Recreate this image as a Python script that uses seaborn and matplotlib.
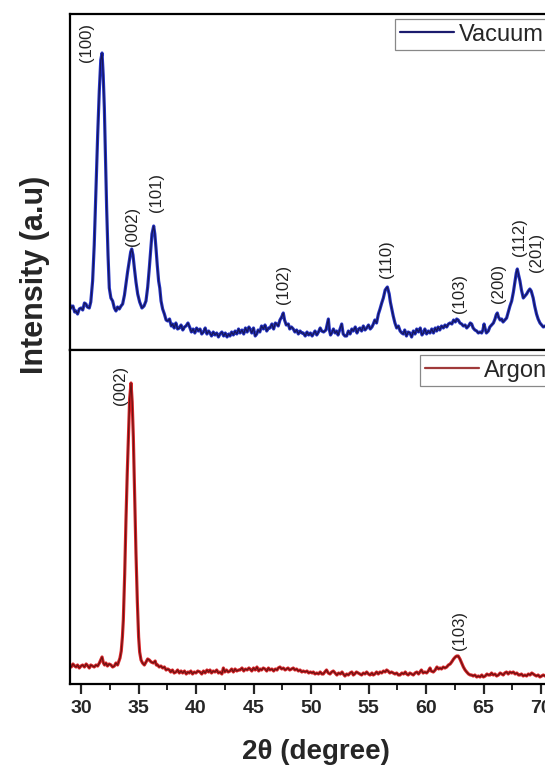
import matplotlib
matplotlib.use("Agg")
import matplotlib.pyplot as plt
import seaborn as sns
import pandas as pd
from matplotlib.lines import Line2D
from matplotlib.ticker import MultipleLocator

# ---------------- data ----------------
# (2theta in degree, intensity in arbitrary units)
vacuum_points = [
    (29.0, 46), (29.15, 42), (29.3, 44), (29.45, 38), (29.57, 39), (29.7, 36), (29.85, 41),
    (30.0, 42), (30.15, 40), (30.3, 47), (30.43, 46), (30.55, 43), (30.72, 42), (30.85, 48),
    (31.01, 69), (31.15, 105), (31.3, 159), (31.45, 215), (31.59, 259), (31.72, 290), (31.83, 297),
    (31.93, 275), (32.03, 242), (32.13, 190), (32.23, 142), (32.35, 95), (32.46, 62), (32.6, 52),
    (32.75, 49), (32.9, 42), (33.04, 39), (33.18, 43), (33.33, 41), (33.48, 44), (33.62, 46),
    (33.78, 55), (33.91, 66), (34.05, 78), (34.2, 89), (34.32, 98), (34.41, 101), (34.52, 95),
    (34.64, 82), (34.78, 68), (34.93, 56), (35.1, 48), (35.3, 42), (35.48, 44), (35.65, 49),
    (35.8, 63), (35.94, 82), (36.06, 100), (36.17, 116), (36.32, 124), (36.42, 116), (36.52, 102),
    (36.63, 85), (36.75, 69), (36.85, 62), (36.96, 49), (37.1, 41), (37.25, 36), (37.4, 30),
    (37.54, 29), (37.7, 31), (37.85, 24), (37.97, 26), (38.1, 22), (38.25, 27), (38.4, 21),
    (38.55, 22), (38.7, 25), (38.85, 20), (39.0, 23), (39.13, 24), (39.3, 27), (39.48, 22),
    (39.6, 18), (39.75, 21), (39.9, 17), (40.05, 22), (40.2, 19), (40.35, 21), (40.5, 16),
    (40.65, 18), (40.8, 22), (40.95, 16), (41.1, 19), (41.22, 17), (41.35, 14), (41.5, 18),
    (41.65, 15), (41.8, 17), (41.95, 13), (42.09, 16), (42.25, 18), (42.4, 14), (42.55, 17),
    (42.7, 13), (42.85, 16), (42.96, 14), (43.1, 18), (43.25, 15), (43.4, 19), (43.55, 16),
    (43.7, 21), (43.83, 17), (44.0, 20), (44.15, 16), (44.3, 22), (44.45, 18), (44.6, 23),
    (44.7, 21), (44.85, 17), (45.0, 22), (45.15, 14), (45.28, 16), (45.4, 20), (45.55, 18),
    (45.7, 24), (45.86, 21), (46.0, 25), (46.15, 19), (46.3, 22), (46.43, 22), (46.6, 26),
    (46.75, 21), (46.9, 27), (47.01, 26), (47.15, 24), (47.3, 30), (47.45, 33), (47.59, 37),
    (47.7, 30), (47.85, 25), (48.03, 26), (48.15, 21), (48.3, 23), (48.46, 21), (48.6, 18),
    (48.75, 20), (48.9, 16), (49.05, 19), (49.2, 17), (49.33, 17), (49.5, 14), (49.65, 18),
    (49.8, 15), (49.95, 17), (50.1, 14), (50.2, 16), (50.35, 19), (50.5, 15), (50.65, 18),
    (50.8, 22), (50.93, 19), (51.1, 18), (51.3, 20), (51.51, 31), (51.6, 20), (51.7, 15),
    (51.8, 17), (51.95, 21), (52.1, 17), (52.23, 19), (52.35, 15), (52.5, 20), (52.67, 26),
    (52.8, 16), (52.95, 14), (53.1, 14), (53.25, 19), (53.4, 16), (53.55, 21), (53.68, 19),
    (53.85, 23), (54.0, 17), (54.15, 21), (54.26, 22), (54.4, 19), (54.55, 24), (54.7, 20),
    (54.84, 22), (55.0, 25), (55.15, 21), (55.3, 23), (55.42, 26), (55.55, 30), (55.7, 27),
    (55.86, 36), (56.0, 41), (56.15, 47), (56.29, 52), (56.45, 60), (56.64, 63), (56.8, 56),
    (56.9, 48), (57.01, 42), (57.15, 34), (57.3, 27), (57.45, 22), (57.6, 24), (57.75, 19),
    (57.9, 17), (58.03, 16), (58.15, 20), (58.3, 14), (58.45, 18), (58.61, 17), (58.75, 13),
    (58.9, 19), (59.05, 16), (59.19, 21), (59.35, 18), (59.5, 22), (59.65, 15), (59.77, 17),
    (59.9, 21), (60.05, 16), (60.2, 19), (60.35, 17), (60.5, 21), (60.65, 17), (60.8, 22),
    (60.93, 19), (61.05, 23), (61.2, 20), (61.35, 24), (61.51, 22), (61.65, 25), (61.8, 23),
    (61.95, 26), (62.09, 27), (62.25, 26), (62.4, 30), (62.55, 28), (62.67, 31), (62.8, 30),
    (62.95, 27), (63.1, 26), (63.25, 24), (63.4, 25), (63.54, 22), (63.7, 24), (63.85, 27),
    (63.97, 26), (64.1, 22), (64.25, 20), (64.41, 19), (64.55, 17), (64.7, 18), (64.84, 17),
    (64.95, 20), (65.05, 26), (65.13, 22), (65.25, 17), (65.42, 19), (65.55, 23), (65.7, 25),
    (65.86, 27), (66.0, 31), (66.1, 35), (66.2, 37), (66.3, 33), (66.45, 30), (66.58, 31),
    (66.7, 28), (66.85, 30), (67.01, 32), (67.15, 38), (67.3, 44), (67.45, 49), (67.6, 58),
    (67.74, 69), (67.85, 77), (67.94, 81), (68.05, 75), (68.17, 69), (68.3, 60), (68.46, 52),
    (68.6, 54), (68.75, 56), (68.9, 59), (69.03, 61), (69.15, 59), (69.32, 52), (69.45, 44),
    (69.61, 36), (69.75, 31), (69.91, 27), (70.05, 25), (70.2, 23), (70.35, 24), (70.5, 22),
    (70.7, 20), (70.9, 22), (71.1, 21), (71.3, 19), (71.5, 22), (71.7, 20), (71.9, 21), (72.0, 20),
]

argon_points = [
    (29.0, 19), (29.15, 17), (29.3, 20), (29.45, 18), (29.57, 17), (29.7, 19), (29.85, 16),
    (30.0, 18), (30.14, 19), (30.3, 17), (30.45, 20), (30.6, 18), (30.72, 16), (30.85, 19),
    (31.0, 18), (31.15, 17), (31.3, 19), (31.45, 18), (31.6, 21), (31.72, 24), (31.83, 27),
    (31.95, 21), (32.05, 19), (32.17, 21), (32.3, 18), (32.45, 20), (32.61, 19), (32.75, 17),
    (32.9, 18), (33.04, 21), (33.18, 19), (33.3, 23), (33.39, 26), (33.5, 33), (33.6, 47),
    (33.68, 64), (33.8, 110), (33.91, 164), (34.02, 210), (34.12, 247), (34.23, 285), (34.35, 301),
    (34.45, 282), (34.55, 247), (34.66, 190), (34.78, 131), (34.9, 82), (35.01, 47), (35.1, 32),
    (35.22, 24), (35.35, 21), (35.51, 19), (35.65, 22), (35.8, 25), (35.94, 24), (36.1, 22),
    (36.29, 21), (36.45, 23), (36.55, 19), (36.67, 19), (36.8, 17), (36.95, 18), (37.1, 16),
    (37.25, 17), (37.4, 14), (37.55, 15), (37.68, 14), (37.8, 12), (37.95, 14), (38.1, 11),
    (38.26, 12), (38.4, 14), (38.55, 11), (38.7, 13), (38.84, 11), (39.0, 13), (39.15, 10),
    (39.3, 12), (39.42, 11), (39.55, 13), (39.7, 10), (39.85, 12), (40.0, 11), (40.15, 13),
    (40.35, 12), (40.5, 10), (40.65, 13), (40.8, 11), (40.95, 14), (41.1, 12), (41.22, 14),
    (41.35, 11), (41.5, 13), (41.65, 12), (41.8, 14), (41.95, 11), (42.09, 12), (42.25, 10),
    (42.38, 16), (42.5, 12), (42.65, 14), (42.8, 12), (42.96, 13), (43.1, 15), (43.25, 12),
    (43.4, 15), (43.55, 13), (43.7, 14), (43.83, 14), (44.0, 16), (44.15, 13), (44.3, 15),
    (44.45, 14), (44.6, 16), (44.7, 15), (44.85, 13), (45.0, 16), (45.15, 14), (45.3, 17),
    (45.45, 13), (45.57, 15), (45.7, 14), (45.85, 16), (46.0, 15), (46.15, 13), (46.3, 16),
    (46.43, 14), (46.6, 15), (46.75, 13), (46.9, 15), (47.05, 14), (47.15, 16), (47.3, 17),
    (47.45, 15), (47.6, 16), (47.75, 14), (47.88, 15), (48.0, 16), (48.15, 14), (48.3, 15),
    (48.46, 16), (48.6, 14), (48.75, 15), (48.9, 13), (49.05, 14), (49.2, 12), (49.33, 13),
    (49.5, 12), (49.65, 13), (49.8, 11), (49.95, 12), (50.1, 11), (50.2, 12), (50.35, 10),
    (50.5, 11), (50.65, 10), (50.8, 12), (50.95, 10), (51.07, 10), (51.2, 12), (51.35, 14),
    (51.5, 11), (51.65, 10), (51.8, 12), (51.94, 13), (52.1, 11), (52.25, 9), (52.4, 11),
    (52.55, 10), (52.7, 12), (52.81, 10), (52.95, 8), (53.1, 10), (53.25, 9), (53.4, 11),
    (53.55, 12), (53.68, 9), (53.8, 10), (53.95, 12), (54.1, 11), (54.26, 10), (54.4, 9),
    (54.55, 11), (54.7, 10), (54.84, 12), (55.0, 10), (55.13, 9), (55.3, 11), (55.42, 9),
    (55.55, 10), (55.7, 12), (55.85, 10), (56.0, 12), (56.15, 11), (56.3, 13), (56.45, 12),
    (56.58, 14), (56.7, 13), (56.85, 11), (57.0, 12), (57.16, 11), (57.3, 10), (57.45, 11),
    (57.6, 9), (57.74, 9), (57.9, 11), (58.05, 10), (58.2, 12), (58.32, 10), (58.45, 9),
    (58.6, 11), (58.75, 10), (58.9, 9), (59.05, 11), (59.2, 12), (59.35, 10), (59.48, 12),
    (59.6, 14), (59.75, 11), (59.9, 12), (60.06, 11), (60.2, 13), (60.35, 16), (60.45, 13),
    (60.64, 12), (60.8, 14), (60.95, 17), (61.1, 15), (61.22, 16), (61.35, 15), (61.5, 17),
    (61.65, 16), (61.8, 17), (61.95, 19), (62.1, 20), (62.23, 22), (62.4, 25), (62.55, 27),
    (62.67, 28), (62.8, 28), (62.95, 25), (63.1, 21), (63.25, 17), (63.4, 14), (63.54, 12),
    (63.7, 10), (63.85, 9), (63.97, 9), (64.1, 8), (64.25, 9), (64.41, 7), (64.55, 8),
    (64.7, 7), (64.85, 9), (64.99, 7), (65.15, 8), (65.3, 10), (65.42, 9), (65.57, 9),
    (65.7, 11), (65.85, 9), (66.0, 10), (66.14, 8), (66.3, 9), (66.45, 11), (66.58, 10),
    (66.72, 9), (66.85, 11), (67.0, 12), (67.15, 10), (67.3, 12), (67.45, 11), (67.59, 12),
    (67.75, 10), (67.9, 11), (68.05, 9), (68.17, 9), (68.3, 10), (68.45, 8), (68.6, 9),
    (68.75, 8), (68.9, 10), (69.05, 9), (69.2, 11), (69.32, 10), (69.45, 9), (69.6, 8),
    (69.75, 9), (69.91, 7), (70.05, 8), (70.2, 9), (70.35, 8), (70.5, 9), (70.7, 8),
    (70.9, 9), (71.1, 8), (71.3, 9), (71.5, 8), (71.7, 9), (72.0, 8),
]

vacuum_peaks = ["(100)", "(002)", "(101)", "(102)", "(110)", "(103)", "(200)", "(112)", "(201)"]
vacuum_peak_x = [30.45, 34.5, 36.6, 47.65, 56.6, 62.95, 66.3, 68.1, 69.6]
vacuum_peak_y = [288, 104, 138, 46, 72, 37, 47, 94, 78]

argon_peaks = ["(002)", "(103)"]
argon_peak_x = [33.4, 62.95]
argon_peak_y = [279, 34]

x_major_ticks = [30, 35, 40, 45, 50, 55, 60, 65, 70]

# ---------------- styling ----------------
sns.set_style("white")
plt.rcParams["font.family"] = ["Liberation Sans", "DejaVu Sans"]

W, H = 545, 772
fig = plt.figure(figsize=(W / 100, H / 100), dpi=100)

x_left_px, x_right_px = 69.5, 564.0   # 29 deg .. 72 deg
top_y0, top_y1 = 14, 350
bot_y0, bot_y1 = 350, 684

ax_top = fig.add_axes([x_left_px / W, 1 - top_y1 / H, (x_right_px - x_left_px) / W, (top_y1 - top_y0) / H])
ax_bot = fig.add_axes([x_left_px / W, 1 - bot_y1 / H, (x_right_px - x_left_px) / W, (bot_y1 - bot_y0) / H])

vac_df = pd.DataFrame(vacuum_points, columns=["two_theta", "intensity"])
arg_df = pd.DataFrame(argon_points, columns=["two_theta", "intensity"])

sns.lineplot(data=vac_df, x="two_theta", y="intensity", ax=ax_top, estimator=None,
             color="#2433c4", lw=2.3)
sns.lineplot(data=vac_df, x="two_theta", y="intensity", ax=ax_top, estimator=None,
             color="#16165a", lw=0.9)
sns.lineplot(data=arg_df, x="two_theta", y="intensity", ax=ax_bot, estimator=None,
             color="#d8262a", lw=2.3)
sns.lineplot(data=arg_df, x="two_theta", y="intensity", ax=ax_bot, estimator=None,
             color="#6e1212", lw=0.9)

for ax, top in ((ax_top, 336), (ax_bot, 334)):
    ax.set_xlim(29, 72)
    ax.set_ylim(0, top)
    ax.set_yticks([])
    ax.set_xlabel("")
    ax.set_ylabel("")
    for s in ax.spines.values():
        s.set_linewidth(1.6)
        s.set_color("black")
        s.set_visible(True)

ax_top.tick_params(axis="x", which="both", bottom=False, labelbottom=False)
ax_bot.set_xticks(x_major_ticks)
ax_bot.xaxis.set_minor_locator(MultipleLocator(2.5))
ax_bot.tick_params(axis="x", which="major", direction="out", length=7.5, width=1.6,
                   pad=4, labelsize=14, bottom=True)
ax_bot.tick_params(axis="x", which="minor", direction="out", length=4.5, width=1.4, bottom=True)
for lab in ax_bot.get_xticklabels():
    lab.set_fontweight("bold")

for lab, xv, yv in zip(vacuum_peaks, vacuum_peak_x, vacuum_peak_y):
    ax_top.text(xv, yv, lab, rotation=90, ha="center", va="bottom", fontsize=12, color="#222222")
for lab, xv, yv in zip(argon_peaks, argon_peak_x, argon_peak_y):
    ax_bot.text(xv, yv, lab, rotation=90, ha="center", va="bottom", fontsize=12, color="#222222")

leg_kw = dict(loc="upper left", fontsize=17, frameon=True, fancybox=False, handlelength=2.3,
              handletextpad=0.2, borderpad=0.2, borderaxespad=0.0, framealpha=1)
lg1 = ax_top.legend(handles=[Line2D([], [], color="#1c1c6e", lw=1.6, label="Vacuum")],
                    bbox_to_anchor=((395 - x_left_px) / (x_right_px - x_left_px), (top_y1 - 19) / (top_y1 - top_y0)),
                    **leg_kw)
lg2 = ax_bot.legend(handles=[Line2D([], [], color="#a03a3a", lw=1.6, label="Argon")],
                    bbox_to_anchor=((420 - x_left_px) / (x_right_px - x_left_px), (bot_y1 - 355) / (bot_y1 - bot_y0)),
                    **leg_kw)
for lg in (lg1, lg2):
    lg.get_frame().set_edgecolor("#888888")
    lg.get_frame().set_linewidth(0.9)

fig.text(35 / W, 1 - 275 / H, "Intensity (a.u)", rotation=90, ha="center", va="center",
         fontsize=22, fontweight="bold")
fig.text(316 / W, 1 - 752 / H, "2θ (degree)", ha="center", va="center",
         fontsize=20, fontweight="bold")

fig.savefig("out.png", dpi=100)
